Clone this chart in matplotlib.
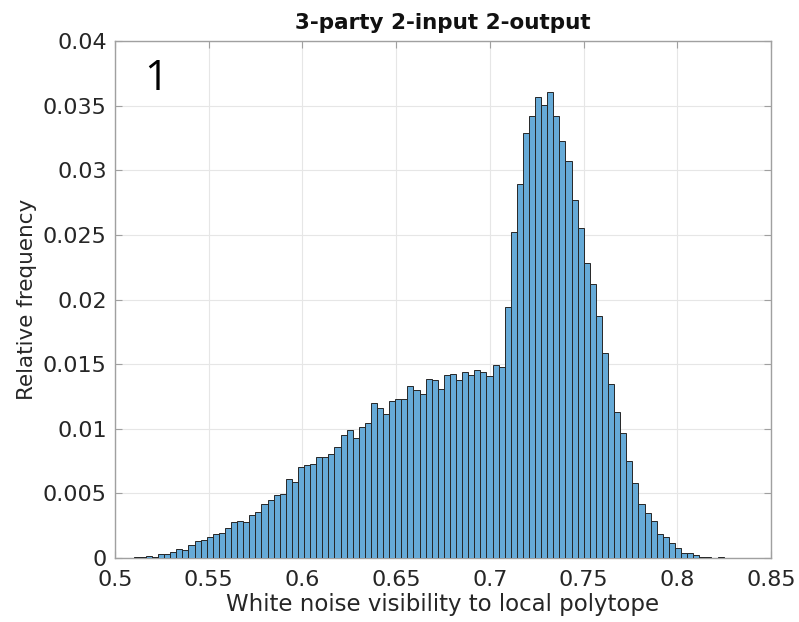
import numpy as np
import matplotlib
matplotlib.use("Agg")
import matplotlib.pyplot as plt

# Histogram data (relative frequency per bin)
bin_start = 0.50678
bin_width = 0.003244
rel_freq = [
    0.00003, 0.00005, 0.00006, 0.00018, 0.00010, 0.00028, 0.00031, 0.00044, 0.00067, 0.00059,
    0.00098, 0.00130, 0.00140, 0.00165, 0.00183, 0.00190, 0.00230, 0.00280, 0.00290, 0.00280,
    0.00333, 0.00353, 0.00415, 0.00449, 0.00485, 0.00498, 0.00609, 0.00585, 0.00704, 0.00720,
    0.00725, 0.00779, 0.00779, 0.00805, 0.00861, 0.00955, 0.00990, 0.00926, 0.01010, 0.01047,
    0.01197, 0.01158, 0.01112, 0.01217, 0.01233, 0.01230, 0.01331, 0.01300, 0.01266, 0.01387,
    0.01377, 0.01308, 0.01413, 0.01422, 0.01380, 0.01439, 0.01418, 0.01455, 0.01436, 0.01408,
    0.01493, 0.01480, 0.01939, 0.02525, 0.02891, 0.03291, 0.03420, 0.03569, 0.03505, 0.03605,
    0.03422, 0.03224, 0.03072, 0.02770, 0.02556, 0.02285, 0.02117, 0.01872, 0.01589, 0.01346,
    0.01130, 0.00965, 0.00753, 0.00578, 0.00415, 0.00346, 0.00289, 0.00188, 0.00160, 0.00119,
    0.00080, 0.00041, 0.00041, 0.00023, 0.00010, 0.00010, 0.00001, 0.00005,
]
x_ticks = [0.5, 0.55, 0.6, 0.65, 0.7, 0.75, 0.8, 0.85]
x_tick_labels = ["0.5", "0.55", "0.6", "0.65", "0.7", "0.75", "0.8", "0.85"]
y_ticks = [0, 0.005, 0.01, 0.015, 0.02, 0.025, 0.03, 0.035, 0.04]
y_tick_labels = ["0", "0.005", "0.01", "0.015", "0.02", "0.025", "0.03", "0.035", "0.04"]
title = "3-party 2-input 2-output"
xlabel = "White noise visibility to local polytope"
ylabel = "Relative frequency"
panel_label = "1"

n = len(rel_freq)
edges = bin_start + bin_width * np.arange(n + 1)

fig = plt.figure(figsize=(7.99, 6.22), dpi=100)
ax = fig.add_axes([0.1439, 0.1029, 0.8211, 0.8311])

ax.hist(edges[:-1], bins=edges, weights=rel_freq,
        color=(0.4, 0.668, 0.845), edgecolor=(0.15, 0.15, 0.15), linewidth=0.7, zorder=3)

ax.set_xlim(0.5, 0.85)
ax.set_ylim(0, 0.04)
ax.set_xticks(x_ticks)
ax.set_xticklabels(x_tick_labels)
ax.set_yticks(y_ticks)
ax.set_yticklabels(y_tick_labels)

ax.grid(True, color="#e6e6e6", linewidth=0.8, zorder=0)
ax.set_axisbelow(True)
for s in ax.spines.values():
    s.set_color("#a0a0a0")
    s.set_linewidth(1.0)
ax.tick_params(direction="in", length=5, width=0.8, color="#a0a0a0",
               top=True, right=True, labelsize=16, labelcolor="#262626")
ax.tick_params(axis="x", pad=9)
ax.tick_params(axis="y", pad=6)

ax.set_title(title, fontsize=15.5, fontweight="bold", color="#111111", pad=9)
ax.set_xlabel(xlabel, fontsize=16.5, color="#262626", labelpad=2)
ax.set_ylabel(ylabel, fontsize=15.5, color="#262626", labelpad=4)

ax.text(0.045, 0.905, panel_label, transform=ax.transAxes, fontsize=30,
        family="Open Sans", color="black", va="baseline", ha="left")

fig.savefig("out.png", dpi=100)
